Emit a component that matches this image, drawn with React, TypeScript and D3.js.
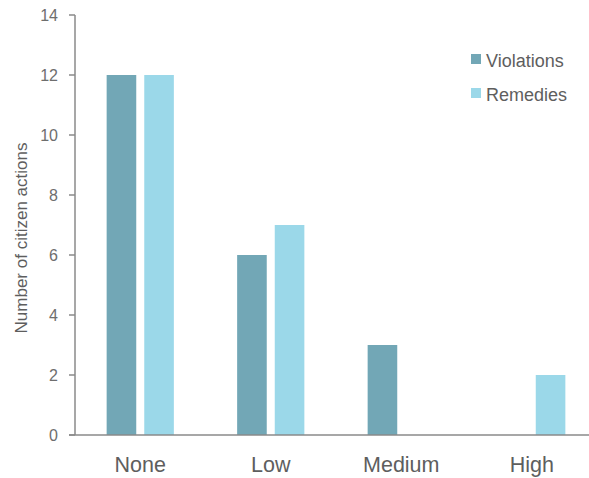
import React from "react";
import * as d3 from "d3";

const categories = ["None", "Low", "Medium", "High"];
const seriesNames = ["Violations", "Remedies"];
const violations = [12, 6, 3, 0];
const remedies = [12, 7, 0, 2];
const yTicks = [0, 2, 4, 6, 8, 10, 12, 14];
const colors = ["#72a7b6", "#9bd8e9"];

export default function App() {
  const W = 589, H = 478;
  const x0 = d3.scaleBand<string>().domain(categories).range([75, 597]).paddingInner(0.485).paddingOuter(0.2425);
  const x1 = d3.scaleBand<string>().domain(seriesNames).range([0, x0.bandwidth()]).paddingInner(0.213);
  const y = d3.scaleLinear().domain([0, 14]).range([435, 15]);
  const series = [violations, remedies];
  const font = "'Liberation Sans', Arial, sans-serif";
  return (
    <svg width={W} height={H} style={{ position: "absolute", left: 0, top: 0 }} fontFamily={font}>
      {series.map((vals, si) =>
        vals.map((v, ci) =>
          v > 0 ? (
            <rect key={`${si}-${ci}`} x={x0(categories[ci])! + x1(seriesNames[si])!} y={y(v)} width={x1.bandwidth()} height={y(0) - y(v)} fill={colors[si]} />
          ) : null
        )
      )}
      <line x1={75} x2={75} y1={15} y2={435} stroke="#8a8a8a" strokeWidth={1.5} />
      <line x1={69} x2={W} y1={435} y2={435} stroke="#8a8a8a" strokeWidth={1.5} />
      {yTicks.map((t) => (
        <g key={t}>
          <line x1={69} x2={75} y1={y(t)} y2={y(t)} stroke="#8a8a8a" strokeWidth={1.5} />
          <text x={58} y={y(t)} dy="0.36em" textAnchor="end" fontSize={16} fill="#6e6e6e">{t}</text>
        </g>
      ))}
      {categories.map((c) => (
        <text key={c} x={x0(c)! + x0.bandwidth() / 2} y={472} textAnchor="middle" fontSize={21.5} fill="#5e5e5e">{c}</text>
      ))}
      <text transform={`translate(27,238) rotate(-90)`} textAnchor="middle" fontSize={17} fill="#5e5e5e">Number of citizen actions</text>
      {seriesNames.map((s, i) => (
        <g key={s} transform={`translate(471,${54 + i * 34})`}>
          <rect width={10} height={10} fill={colors[i]} />
          <text x={15} y={12.5} fontSize={18} fill="#5e5e5e">{s}</text>
        </g>
      ))}
    </svg>
  );
}
